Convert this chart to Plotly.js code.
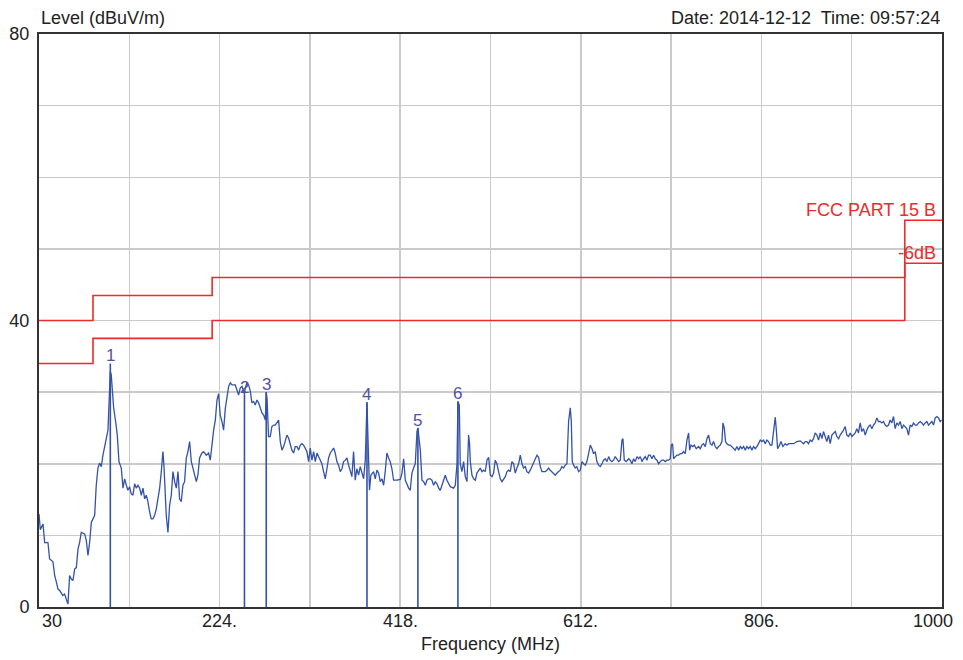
<!DOCTYPE html>
<html>
<head>
<meta charset="utf-8">
<script src="https://cdn.plot.ly/plotly-3.0.1.min.js"></script>
<style>html,body{margin:0;padding:0;background:#fff;}#chart{width:963px;height:660px;}</style>
</head>
<body>
<div id="chart"></div>
<script>
// ---- spectrum trace (MHz, dBuV/m) ----
const freqA = [30.0,31.4,34.3,36.1,39.6,41.4,45.0,46.8,48.6,50.4,52.2,53.9,55.7,57.5,59.3,61.1,62.9,64.7,66.5,68.3,70.1,71.9,73.6,75.4,79.0,80.8,82.6,84.4,86.2,89.8,91.5,93.3,95.1,96.9,98.7,100.5,102.3,104.1,105.9,106.6,107.6,108.7,110.2,112.3,114.1,115.9,118.4,120.2,122.0,123.8,125.5,127.3,129.1,130.9,132.7,134.5,136.3,138.1,139.9,141.7,143.5,145.2,147.0,148.8,150.6,152.4,154.2,156.0,157.8,159.6,161.4,163.1,164.2,165.3,166.7,168.5,170.3,172.1,173.9,175.7,177.5,179.3,181.0,182.8,184.6,186.4,188.2,190.0,191.8,193.6,195.4,197.2,199.0,200.7,202.5];
const levelA = [13.0,10.8,11.6,9.0,9.0,6.7,6.3,4.4,3.5,2.5,2.3,2.0,1.6,1.8,1.1,0.4,4.4,3.9,3.7,5.3,5.5,8.1,9.0,10.4,10.2,9.3,7.2,9.0,11.8,12.8,17.0,19.4,20.1,19.6,21.2,22.4,23.6,24.7,30.6,32.9,32.4,29.6,27.8,25.9,24.0,20.3,19.4,16.6,17.9,17.0,16.3,16.8,15.8,15.6,17.2,16.6,17.0,16.6,15.6,16.6,15.1,15.6,14.7,13.3,12.3,12.3,12.8,13.7,15.1,16.6,18.9,21.7,19.8,16.6,12.8,10.4,14.2,15.6,18.9,17.5,16.6,18.9,15.1,14.7,17.0,17.5,20.8,21.7,23.1,20.3,19.4,18.4,17.5,18.4,20.8];

const freqB = [205.0,206.8,209.7,212.2,214.0,215.8,217.6,219.4,221.2,222.9,224.7,226.5,228.3,230.1,231.9,233.7,235.5,237.3,239.1,240.8,242.6,244.4,246.2,248.0,249.8,250.7,251.6,253.4,255.2,257.0,258.7,260.5,262.3,264.1,265.9,267.7,269.5,271.3,273.1,274.1,275.0,276.6,278.4,280.2,282.0,283.8,285.6,287.4,289.2,291.0,292.8,294.5,296.3,298.1,299.9,301.7,303.5,305.3,307.1,308.9,310.7,312.4,314.2,316.0,317.8,319.6,321.4,323.2,325.0,326.8,328.6,330.3,332.1,333.9,335.7,337.5,339.3,341.1,342.9,344.7,346.5,348.2,350.0,351.8,353.6,355.4,357.2,359.0,360.8,362.6,364.4,366.1,367.9,369.7,371.5,373.3,375.1,376.9,378.7,380.5,382.3,383.3,385.0,386.5,389.4,391.2,393.0,394.8,396.6,398.4,400.2,401.9,403.7,405.5,407.3,409.1,410.9,414.5,418.1];
const levelB = [21.5,21.7,21.2,21.5,20.5,23.1,24.7,26.1,28.9,29.8,26.8,25.9,24.7,27.7,29.2,30.8,31.3,31.0,31.0,31.0,30.3,29.6,30.6,30.8,30.2,29.6,30.6,31.3,31.0,30.1,28.5,28.7,28.2,28.9,28.5,27.7,27.1,26.8,26.1,30.0,29.0,23.8,23.8,25.2,25.4,25.4,25.7,26.1,23.1,21.9,22.4,23.3,24.0,23.6,22.8,21.9,21.5,22.4,22.4,21.9,22.6,22.8,22.6,22.2,21.7,20.3,22.2,20.5,21.7,20.3,21.5,21.0,20.5,20.0,18.9,17.9,19.3,20.8,21.5,21.9,22.2,21.5,20.3,19.8,18.9,19.3,20.3,20.5,20.8,19.8,18.9,18.2,21.7,17.7,19.3,18.4,19.6,18.9,17.9,20.5,28.6,24.0,16.3,18.4,18.9,17.9,19.1,18.7,17.5,17.9,17.0,18.9,21.5,20.8,20.3,19.3,17.7,17.7,17.8];

const freqC = [419.9,421.7,423.5,425.3,427.1,428.8,430.6,432.4,434.2,436.0,437.0,439.6,441.4,443.2,445.0,446.7,448.5,450.3,452.1,453.9,455.7,457.5,459.3,461.1,462.9,464.6,466.4,468.2,470.0,471.8,475.4,477.2,479.0,480.0,481.5,482.5,484.3,486.1,487.9,489.7,491.5,492.6,493.3,495.1,496.9,498.7,500.4,502.2,504.0,505.8,507.6,509.4,511.2,513.0,514.8,516.6,518.3,520.1,521.9,523.7,525.5,527.3,529.1,530.9,532.7,534.5,536.2,538.0,539.8,541.6,543.4,545.2,547.0,548.8,550.6,552.4,554.1,555.9,557.7,559.5,561.3,563.1,564.9,566.7,568.5,570.3,572.0,573.8,575.6,577.4,579.2,581.0,582.8,584.6,586.4,588.2,589.9,591.7,593.5,595.3,597.1,598.9,600.7,601.8,602.8,604.3,606.1,607.8,609.6,611.4,613.2,615.0,616.8,618.6,620.4,622.2,624.0,625.7,627.5,629.3,631.1,632.9,634.7,636.5,638.3,640.1,641.9,643.6,645.4,647.2,649.0,650.8,652.6,654.4];
const levelC = [18.7,20.7,17.7,17.0,16.6,16.3,18.7,19.4,20.0,24.5,25.0,21.9,17.7,17.5,17.0,17.7,17.9,17.9,17.7,17.0,17.5,17.2,16.6,16.3,17.0,17.5,18.4,17.7,17.2,16.8,16.6,17.0,20.0,28.7,28.2,20.0,18.9,20.3,18.2,17.5,24.0,22.6,20.3,18.4,17.9,17.7,18.7,19.1,19.4,18.9,19.1,18.9,20.5,20.9,18.4,18.2,18.7,20.5,20.0,18.9,17.9,17.5,17.9,18.2,18.9,19.1,18.9,20.3,20.0,18.7,19.4,20.0,21.2,20.0,19.4,19.6,18.9,18.7,19.1,19.6,20.0,20.5,21.2,20.9,19.6,18.9,18.9,18.9,19.1,19.4,19.1,18.9,18.7,18.4,18.7,18.9,19.1,19.6,19.4,19.8,20.0,25.9,27.8,25.9,20.3,19.8,19.4,19.6,18.9,19.1,20.3,20.0,19.8,20.3,21.4,22.6,22.1,21.4,21.7,20.3,19.8,19.6,20.0,20.5,20.7,20.3,21.0,20.5,20.3,20.5,21.0,20.7,20.3,20.5];

const freqD = [656.2,657.3,658.7,660.8,663.4,665.1,666.9,668.7,670.5,672.3,674.1,675.9,677.7,679.5,681.3,683.0,684.8,686.6,688.4,690.2,692.0,693.8,695.6,697.4,699.2,700.9,702.7,704.5,706.3,708.1,709.2,710.6,711.7,713.5,715.3,717.1,718.8,720.6,722.4,724.2,726.0,727.8,728.9,730.3,732.4,733.9,736.0,738.5,740.3,742.1,743.9,745.7,747.5,749.3,751.1,752.9,754.6,756.4,758.2,760.0,761.8,763.6,764.7,766.1,767.5,768.9,770.8,772.5,774.3,776.1,777.9,779.7,781.5,783.3,785.1,786.9,788.7,790.4,792.2,794.0,795.8,797.6,799.4,801.2,803.0,804.8,806.6,808.3,810.1,811.9,813.7,815.5,817.3,819.1,820.9,822.0,823.4,825.5,827.0,829.1,831.6,833.4,835.2,837.0,840.6,844.1,847.7];
const levelD = [23.3,23.5,20.5,20.3,20.7,20.5,20.0,20.7,20.3,21.0,20.7,21.0,20.3,20.7,21.0,20.5,21.2,21.2,20.7,21.2,20.7,20.5,20.0,20.3,20.5,20.5,20.3,20.5,20.5,20.7,22.6,22.8,20.7,21.0,21.2,21.2,21.4,21.4,21.7,21.4,23.3,24.3,21.9,22.6,22.4,22.6,22.1,22.4,22.1,22.6,22.8,22.4,23.5,24.0,22.8,22.6,23.1,22.4,22.1,22.4,22.6,23.1,25.7,25.0,23.1,22.8,22.6,22.6,22.4,22.1,21.9,22.4,21.9,22.4,22.1,22.4,21.9,22.4,22.1,22.4,21.9,22.4,22.1,22.4,22.8,23.3,23.1,23.3,22.8,23.3,23.1,22.6,22.6,24.3,26.5,24.8,22.1,22.6,23.1,22.4,22.8,22.6,22.8,22.8,22.8,23.1,23.2];

const freqE = [851.3,853.1,854.8,856.6,858.4,860.2,862.0,863.8,865.6,867.4,869.2,871.0,872.7,874.5,876.3,878.1,879.9,881.7,883.5,885.3,887.1,888.9,890.6,892.4,894.2,896.0,897.8,899.6,901.4,903.2,905.0,906.8,908.5,910.3,912.1,913.9,915.7,917.5,919.3,921.1,922.9,924.7,926.4,928.2,930.0,931.8,933.6,935.4,937.2,939.0,940.8,942.6,944.3,946.1,947.9,949.7,951.5,953.3,955.1,956.9,958.7,960.5,962.2,964.0,965.8,967.6,969.4,971.2,973.0,974.8,976.6,978.4,980.1,981.9,983.7,985.5,987.3,989.1,990.9,992.7,994.5,996.3,998.0,999.5];
const levelE = [22.8,23.1,23.1,22.8,23.3,23.1,23.5,24.3,24.0,23.3,24.3,23.5,24.5,23.8,23.1,24.0,22.8,24.0,24.3,24.5,23.8,23.5,24.0,24.3,24.7,25.2,24.0,23.8,24.3,23.8,24.0,24.3,24.9,24.3,25.7,24.5,24.9,24.0,24.7,25.2,25.4,24.9,25.4,25.7,26.4,25.9,25.9,25.7,25.9,25.4,25.2,25.4,26.1,25.7,26.6,24.9,25.7,25.4,25.9,24.9,25.4,25.2,24.9,24.0,25.4,25.2,25.7,25.4,25.4,25.7,25.9,25.7,25.4,25.7,25.9,25.4,25.7,25.9,25.4,26.4,26.6,26.4,25.9,26.1];

// ---- limit lines (step at each frequency) ----
const limitFreq  = [30, 88, 216, 960, 1000];
const limitLevel = [40, 43.5, 46, 54, 54];
const marginLevel = [34, 37.5, 40, 48, 48];
const limitNames = ['FCC PART 15 B', '-6dB'];

// ---- markers ----
const markerFreq  = [106.6, 250.7, 274.1, 382.3, 437.0, 480.0];
const markerLevel = [34.0, 29.6, 30.0, 28.6, 25.0, 28.7];
const markerLabel = ['1', '2', '3', '4', '5', '6'];

// ---- axis labels ----
const xTickVals = [30, 224, 418, 612, 806, 1000];
const xTickText = ['30', '224.', '418.', '612.', '806.', '1000'];
const yTickVals = [0, 10, 20, 30, 40, 50, 60, 70, 80];
const yTickText = ['0', '', '', '', '40', '', '', '', '80'];

const freq = [].concat(freqA, freqB, freqC, freqD, freqE);
const level = [].concat(levelA, levelB, levelC, levelD, levelE);

const FONT = 'Liberation Sans, Arial, sans-serif';
const BLUE = '#3352a8';
const RED = '#ee2a2a';

const mx = [], my = [];
markerFreq.forEach((f, i) => { mx.push(f, f, null); my.push(0, markerLevel[i], null); });

const traces = [
  {x: limitFreq, y: limitLevel, mode: 'lines', line: {color: RED, width: 1.6, shape: 'hv'}, hoverinfo: 'skip'},
  {x: limitFreq, y: marginLevel, mode: 'lines', line: {color: RED, width: 1.6, shape: 'hv'}, hoverinfo: 'skip'},
  {x: freq, y: level, mode: 'lines', line: {color: BLUE, width: 1.3}},
  {x: mx, y: my, mode: 'lines', line: {color: BLUE, width: 1.6}, connectgaps: false}
];

const annotations = [];
xTickVals.forEach((v, i) => {
  const last = i === xTickVals.length - 1;
  annotations.push({x: v, y: 0, xref: 'x', yref: 'paper', text: xTickText[i], showarrow: false,
    xanchor: i === 0 ? 'left' : (last ? 'right' : 'center'), xshift: i === 0 ? 1 : (last ? 13 : 0),
    yanchor: 'top', yshift: -2, font: {family: FONT, size: 18, color: '#222'}});
});
markerFreq.forEach((f, i) => {
  annotations.push({x: f, y: markerLevel[i], xref: 'x', yref: 'y', text: markerLabel[i], showarrow: false,
    xanchor: 'center', yanchor: 'bottom', yshift: -4, font: {family: FONT, size: 17, color: '#5252a6'}});
});
[limitLevel, marginLevel].forEach((arr, i) => {
  annotations.push({x: 1000, y: arr[arr.length - 1], xref: 'x', yref: 'y', text: limitNames[i], showarrow: false,
    xanchor: 'right', yanchor: 'bottom', xshift: -4, yshift: -2, font: {family: FONT, size: 18, color: RED}});
});
annotations.push({x: 0, y: 1, xref: 'paper', yref: 'paper', text: 'Level (dBuV/m)', showarrow: false,
  xanchor: 'left', yanchor: 'bottom', yshift: 4, font: {family: FONT, size: 18, color: '#222'}});
annotations.push({x: 1, y: 1, xref: 'paper', yref: 'paper', text: 'Date: 2014-12-12  Time: 09:57:24', showarrow: false,
  xanchor: 'right', yanchor: 'bottom', yshift: 4, font: {family: FONT, size: 18, color: '#222'}});
annotations.push({x: 0.5, y: 0, xref: 'paper', yref: 'paper', text: 'Frequency (MHz)', showarrow: false,
  xanchor: 'center', yanchor: 'top', yshift: -25, font: {family: FONT, size: 18, color: '#222'}});

const layout = {
  width: 963, height: 660,
  margin: {l: 39, r: 21, t: 34, b: 53},
  paper_bgcolor: '#fff', plot_bgcolor: '#fff',
  showlegend: false,
  xaxis: {range: [30, 1000], tickmode: 'linear', tick0: 30, dtick: 97, showticklabels: false,
    showgrid: true, gridcolor: '#cacaca', gridwidth: 1.5, zeroline: false,
    showline: true, mirror: true, linecolor: '#333', linewidth: 2, ticks: ''},
  yaxis: {range: [0, 80], tickmode: 'array', tickvals: yTickVals, ticktext: yTickText,
    showgrid: true, gridcolor: '#cacaca', gridwidth: 1.5, zeroline: false,
    showline: true, mirror: true, linecolor: '#333', linewidth: 2, ticks: '', ticklabelstandoff: 4,
    tickfont: {family: FONT, size: 18, color: '#222'}},
  annotations: annotations
};

Plotly.newPlot('chart', traces, layout, {displayModeBar: false, staticPlot: true});
</script>
</body>
</html>
